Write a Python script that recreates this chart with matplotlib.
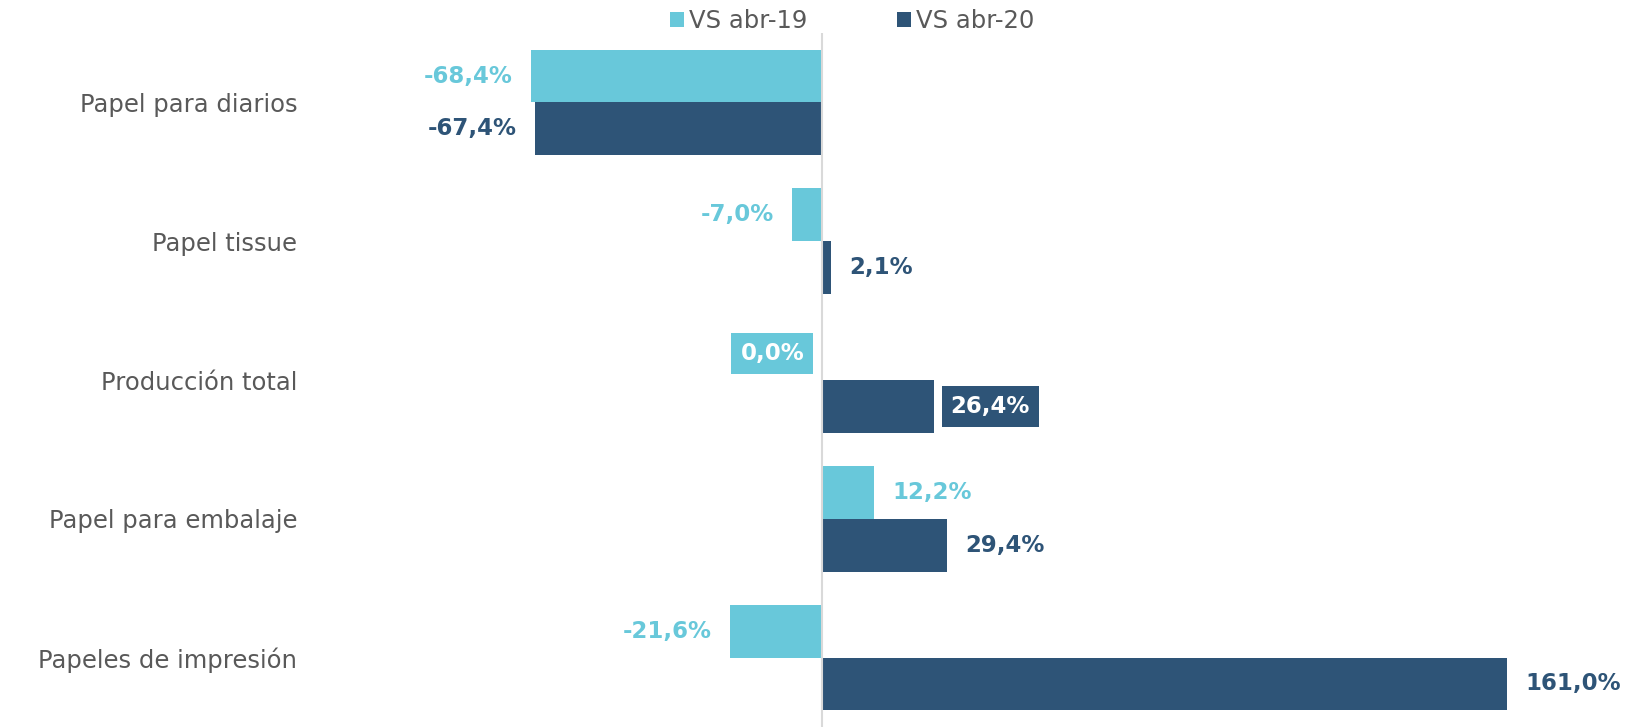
import numpy as np
import matplotlib.pyplot as plt

# data
categories = ["Papel para diarios", "Papel tissue", "Producción total",
              "Papel para embalaje", "Papeles de impresión"]
vs_abr19 = [-68.4, -7.0, 0.0, 12.2, -21.6]
vs_abr20 = [-67.4, 2.1, 26.4, 29.4, 161.0]
series_names = ["VS abr-19", "VS abr-20"]

LIGHT = "#68C8DA"
DARK = "#2E5477"
GRAY = "#595959"

W, H = 1633, 727
fig = plt.figure(figsize=(W / 100, H / 100), dpi=100)
# axes in pixel terms: left 300, right 1620, top 33, bottom 727
ax = fig.add_axes([300 / W, 0, 1320 / W, (H - 33) / H])

zero_px = 822.0
px_per_unit = 4.255
ax.set_xlim((300 - zero_px) / px_per_unit, (1620 - zero_px) / px_per_unit)

y = np.arange(len(categories))
bh = 0.38
ax.set_ylim(len(categories) - 0.5, -0.5)

b1 = ax.barh(y - bh / 2, vs_abr19, height=bh, color=LIGHT, label=series_names[0])
b2 = ax.barh(y + bh / 2, vs_abr20, height=bh, color=DARK, label=series_names[1])

ax.axvline(0, color="#D9D9D9", lw=1.5, zorder=3)

gap = 18 / px_per_unit
fs = 16.5


def fmt(v):
    return f"{v:.1f}%".replace(".", ",")


for i, (v1, v2) in enumerate(zip(vs_abr19, vs_abr20)):
    if categories[i] == "Producción total":
        # boxed labels, as in the original
        ax.text(v1 - 4.2, i - bh / 2, fmt(v1), ha="right", va="center",
                color="white", fontsize=fs, fontweight="bold",
                bbox=dict(boxstyle="square,pad=0.4", fc=LIGHT, ec="none"))
        ax.text(v2 + 3.85, i + bh / 2, fmt(v2), ha="left", va="center",
                color="white", fontsize=fs, fontweight="bold",
                bbox=dict(boxstyle="square,pad=0.4", fc=DARK, ec="none"))
        continue
    for v, offs, color in ((v1, -bh / 2, LIGHT), (v2, bh / 2, DARK)):
        if v < 0:
            ax.text(v - gap, i + offs, fmt(v), ha="right", va="center",
                    color=color, fontsize=fs, fontweight="bold")
        else:
            ax.text(v + gap, i + offs, fmt(v), ha="left", va="center",
                    color=color, fontsize=fs, fontweight="bold")

ax.set_xticks([])
ax.set_yticks(y)
ax.set_yticklabels(categories, fontsize=17.5, color=GRAY)
ax.tick_params(axis="y", length=0, pad=2)
for s in ax.spines.values():
    s.set_visible(False)

fig.legend(handles=[b1, b2], labels=series_names, loc="center",
           bbox_to_anchor=(852 / W, 1 - 21 / H), ncol=2, frameon=False,
           fontsize=17.5, labelcolor=GRAY, handlelength=0.58, handleheight=0.58,
           handletextpad=0.2, columnspacing=3.7)

fig.savefig("out.png", dpi=100)
